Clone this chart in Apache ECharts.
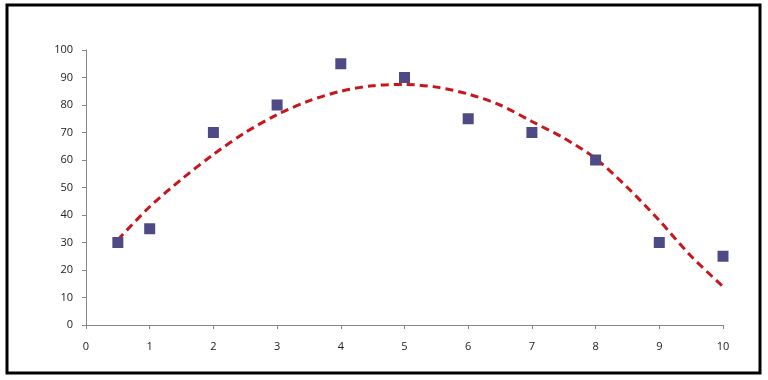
<!DOCTYPE html>
<html>
<head>
<meta charset="UTF-8">
<title>scatter trend</title>
<script src="https://cdn.jsdelivr.net/npm/echarts@6/dist/echarts.min.js"></script>
<style>
  body { margin: 0; background: #fff; }
  #chart { width: 768px; height: 380px; }
</style>
</head>
<body>
<div id="chart"></div>
<script>
// measured points
var pointX = [0.5, 1, 2, 3, 4, 5, 6, 7, 8, 9, 10];
var pointY = [30, 35, 70, 80, 95, 90, 75, 70, 60, 30, 25];

// trend line
var trendX = [0.5, 1, 1.5, 2, 2.5, 3, 3.5, 4, 4.5, 5, 5.5, 6, 6.5, 7, 7.5, 8, 8.5, 9, 9.5, 10];
var trendY = [31, 43, 53, 62, 70, 76.5, 81.5, 85, 87, 87.5, 86.5, 84, 80, 74, 68, 60.5, 50, 38, 25, 14];

var points = [];
for (var i = 0; i < pointX.length; i++) points.push([pointX[i], pointY[i]]);
var trend = [];
for (var j = 0; j < trendX.length; j++) trend.push([trendX[j], trendY[j]]);

var axisFont = { fontFamily: "Open Sans", fontSize: 11, color: "#222" };

var chart = echarts.init(document.getElementById("chart"));
chart.setOption({
    animation: false,
    backgroundColor: "#fff",
    grid: { left: 86, right: 45, top: 50, bottom: 55 },
    graphic: [{
        type: "rect",
        shape: { x: 7, y: 5, width: 753, height: 368 },
        style: { fill: "none", stroke: "#000", lineWidth: 3 }
    }],
    xAxis: {
        type: "value", min: 0, max: 10, interval: 1,
        splitLine: { show: false },
        axisLine: { lineStyle: { color: "#868686" } },
        axisTick: { length: 4, lineStyle: { color: "#868686" } },
        axisLabel: Object.assign({ margin: 16 }, axisFont)
    },
    yAxis: {
        type: "value", min: 0, max: 100, interval: 10,
        splitLine: { show: false },
        axisLine: { show: true, lineStyle: { color: "#868686" } },
        axisTick: { show: true, length: 4, lineStyle: { color: "#868686" } },
        axisLabel: Object.assign({ margin: 13 }, axisFont)
    },
    series: [{
        type: "line",
        data: trend,
        smooth: 0.3,
        symbol: "none",
        lineStyle: { color: "#C8161D", width: 3, type: [8, 5] },
        z: 2
    }, {
        type: "scatter",
        data: points,
        symbol: "rect",
        symbolSize: 11,
        itemStyle: { color: "#4E4A86", opacity: 1 },
        z: 3
    }]
});
</script>
</body>
</html>
